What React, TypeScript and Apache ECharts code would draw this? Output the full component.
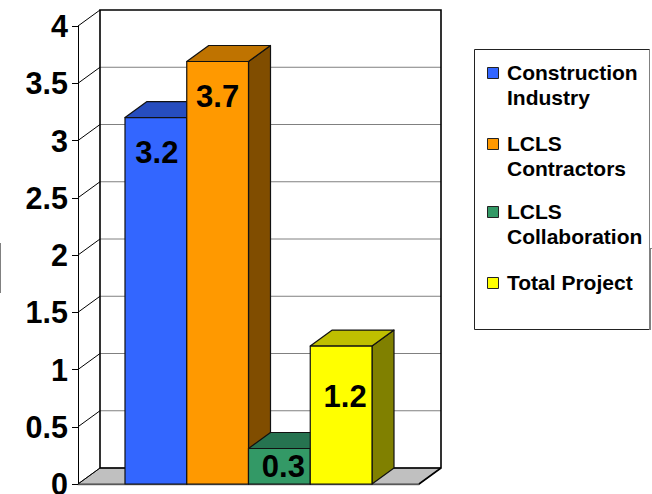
import React, { useEffect, useRef } from "react";
import * as echarts from "echarts";

const categories = ["LCLS"];
const seriesNames = ["Construction Industry", "LCLS Contractors", "LCLS Collaboration", "Total Project"];
const legendLines = [["Construction", "Industry"], ["LCLS", "Contractors"], ["LCLS", "Collaboration"], ["Total Project"]];
const seriesValues = [3.2, 3.7, 0.3, 1.2];
const drawnHeights = [3.2, 3.69, 0.31, 1.205];
const tickValues = [0, 0.5, 1, 1.5, 2, 2.5, 3, 3.5, 4];
const frontColors = ["#3366FF", "#FF9900", "#339966", "#FFFF00"];
const topColors = ["#264DBF", "#BF7300", "#267350", "#BFBF00"];
const sideColors = ["#1A3380", "#804D00", "#1A4D33", "#808000"];

const DX = 22;
const DY = -16;
const BAR_RATIO = 247 / 341;
const LABEL_OFFSETS = [35, 35, 18, 50];
const LABEL_SHIFTS = [1, 0, 4, 4];
const FONT = "'Liberation Sans', Arial, sans-serif";

function wallRender(_p: any, api: any) {
  const zero = api.coord([0, 0]);
  const top = api.coord([0, 4]);
  const w = api.size([1, 0])[0];
  const left = zero[0] - w / 2;
  const right = zero[0] + w / 2;
  const children: any[] = [];
  children.push({
    type: "polygon",
    shape: { points: [[left, zero[1]], [left + DX, zero[1] + DY], [right + DX, zero[1] + DY], [right, zero[1]]] },
    style: { fill: "#C0C0C0", stroke: "#404040", lineWidth: 1 },
  });
  tickValues.forEach((t) => {
    if (t === 0 || t === 4) return;
    const y = api.coord([0, t])[1];
    children.push({
      type: "line",
      shape: { x1: left + DX, y1: y + DY, x2: right + DX, y2: y + DY },
      style: { stroke: "#808080", lineWidth: 1 },
    });
  });
  tickValues.forEach((t) => {
    const y = api.coord([0, t])[1];
    children.push({
      type: "line",
      shape: { x1: left, y1: y, x2: left + DX, y2: y + DY },
      style: { stroke: "#000", lineWidth: 1 },
    });
  });
  children.push({
    type: "polyline",
    shape: { points: [[left + DX, zero[1] + DY], [left + DX, top[1] + DY], [right + DX, top[1] + DY], [right + DX, zero[1] + DY], [right, zero[1]]] },
    style: { fill: "none", stroke: "#000", lineWidth: 1.6 },
  });
  children.push({
    type: "line",
    shape: { x1: left + DX, y1: zero[1] + DY, x2: right + DX, y2: zero[1] + DY },
    style: { stroke: "#000", lineWidth: 1.4 },
  });
  return { type: "group", children };
}

function barRender(index: number) {
  return (_p: any, api: any) => {
    const base = api.coord([0, 0]);
    const top = api.coord([0, api.value(1)]);
    const band = api.size([1, 0])[0];
    const bw = band * BAR_RATIO / 4;
    const x0 = base[0] + (index - 2) * bw;
    const x1 = x0 + bw;
    const stroke = { stroke: "#111", lineWidth: 1.2, lineJoin: "round" };
    return {
      type: "group",
      children: [
        { type: "polygon", shape: { points: [[x1, top[1]], [x1 + DX, top[1] + DY], [x1 + DX, base[1] + DY], [x1, base[1]]] }, style: { fill: sideColors[index], ...stroke } },
        { type: "polygon", shape: { points: [[x0, top[1]], [x0 + DX, top[1] + DY], [x1 + DX, top[1] + DY], [x1, top[1]]] }, style: { fill: topColors[index], ...stroke } },
        { type: "rect", shape: { x: x0, y: top[1], width: bw, height: base[1] - top[1] }, style: { fill: frontColors[index], ...stroke } },
        {
          type: "text",
          style: {
            x: (x0 + x1) / 2 + LABEL_SHIFTS[index],
            y: top[1] + LABEL_OFFSETS[index],
            text: String(seriesValues[index].toFixed(1)),
            font: `bold 31px ${FONT}`,
            fill: "#000",
            align: "center",
            verticalAlign: "middle",
          },
        },
      ],
    };
  };
}

const legendRows = [73, 144, 212, 283];

function legendGraphic() {
  const els: any[] = [
    { type: "rect", shape: { x: 474.5, y: 49.5, width: 175, height: 280 }, style: { fill: "#fff", stroke: "#222", lineWidth: 1 } },
    { type: "line", shape: { x1: 649.5, y1: 49.5, x2: 649.5, y2: 248 }, style: { stroke: "#808080", lineWidth: 1 } },
    { type: "line", shape: { x1: 650, y1: 248, x2: 650, y2: 330 }, style: { stroke: "#808080", lineWidth: 2 } },
    { type: "line", shape: { x1: 649, y1: 248.5, x2: 652, y2: 248.5 }, style: { stroke: "#808080", lineWidth: 1 } },
    { type: "line", shape: { x1: 0.5, y1: 243, x2: 0.5, y2: 293 }, style: { stroke: "#808080", lineWidth: 1 } },
  ];
  legendLines.forEach((lines, i) => {
    const y = legendRows[i];
    els.push({ type: "rect", shape: { x: 487.5, y: y - 5.5, width: 11, height: 11 }, style: { fill: frontColors[i], stroke: "#222", lineWidth: 1 } });
    lines.forEach((line, j) => {
      els.push({
        type: "text",
        style: { x: 507, y: y - 1 + j * 25, text: line, font: `bold 21px ${FONT}`, fill: "#000", align: "left", verticalAlign: "middle" },
      });
    });
  });
  return els;
}

export default function App() {
  const ref = useRef<HTMLDivElement>(null);
  useEffect(() => {
    const chart = echarts.init(ref.current!, undefined, { renderer: "svg" });
    chart.setOption({
      animation: false,
      backgroundColor: "#fff",
      grid: { left: 78, right: 233, top: 26, bottom: 10, outerBoundsMode: "none" },
      xAxis: {
        type: "category",
        data: categories,
        axisLabel: { show: false },
        axisTick: { show: false },
        axisLine: { show: true, lineStyle: { color: "#707070", width: 1.4 } },
      },
      yAxis: {
        type: "value",
        min: 0,
        max: 4,
        interval: 0.5,
        splitLine: { show: false },
        axisLine: { show: true, lineStyle: { color: "#000", width: 1 } },
        axisTick: { show: true, length: 6, lineStyle: { color: "#000", width: 1 } },
        axisLabel: { color: "#000", fontFamily: FONT, fontWeight: "bold", fontSize: 30.5, margin: 10, padding: [0, 0, 5, 0], hideOverlap: false, formatter: (v: number) => String(v) },
      },
      graphic: legendGraphic(),
      series: [
        { type: "custom", name: "walls", silent: true, renderItem: wallRender, data: [[0, 4]], z: 1 },
        ...seriesNames.map((name, i) => ({
          type: "custom",
          name,
          renderItem: barRender(i),
          data: [[0, drawnHeights[i]]],
          encode: { x: 0, y: 1 },
          z: 2 + i,
        })),
      ],
    });
    return () => chart.dispose();
  }, []);
  return <div ref={ref} style={{ position: "absolute", left: 0, top: 0, width: 652, height: 494 }} />;
}
